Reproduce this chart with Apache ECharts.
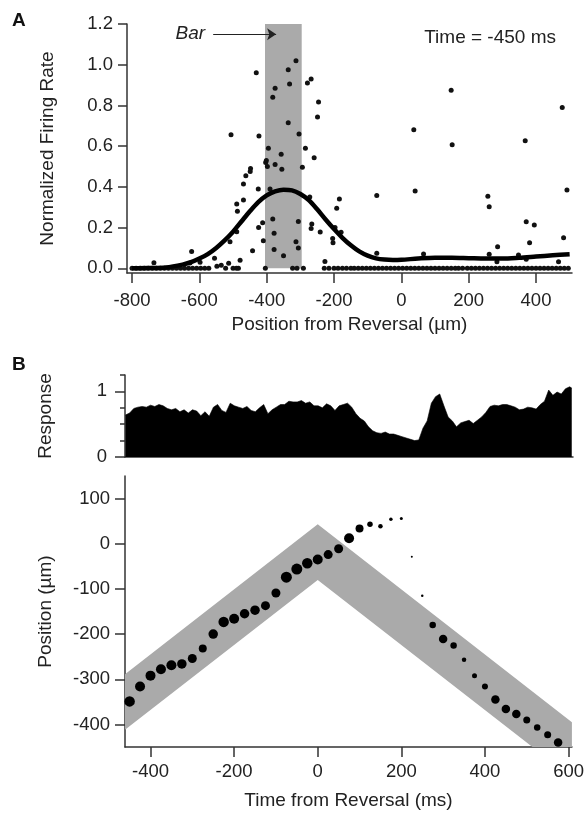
<!DOCTYPE html>
<html>
<head>
<meta charset="utf-8">
<script src="https://cdn.jsdelivr.net/npm/echarts@6/dist/echarts.min.js"></script>
<style>
html,body{margin:0;padding:0;background:#fff}
#chart{width:587px;height:819px}
</style>
</head>
<body>
<div id="chart"></div>
<script>
// ---- panel A: firing rate vs position ----
var firingDots = [
  [-431,0.96],[-313,1.02],[-336,0.975],[-332,0.905],[-375,0.885],[-382,0.84],[-336,0.715],
  [-304,0.66],[-506,0.656],[-423,0.65],[-395,0.59],[-357,0.56],[-403,0.52],[-375,0.51],
  [-398,0.50],[-355,0.486],[-448,0.49],[-449,0.475],[-462,0.455],[-469,0.414],[-425,0.39],
  [-390,0.39],[-279,0.91],[-268,0.93],[-246,0.817],[-249,0.743],[-285,0.59],[-259,0.543],
  [-294,0.496],[148,0.874],[37,0.68],[151,0.607],[478,0.79],[368,0.627],[492,0.385],
  [41,0.38],[-73,0.358],[257,0.354],[-272,0.35],[-184,0.34],[-489,0.316],[-487,0.28],
  [-469,0.335],[-489,0.18],[-509,0.13],[-623,0.082],[-735,0.027],[-555,0.049],[-513,0.025],
  [-479,0.04],[-442,0.086],[-424,0.2],[-412,0.224],[-410,0.136],[-382,0.242],[-378,0.172],
  [-378,0.093],[-350,0.062],[-313,0.13],[-306,0.23],[-598,0.03],[-628,0.026],[-266,0.218],
  [-268,0.196],[-241,0.178],[-192,0.295],[-197,0.2],[-179,0.177],[-204,0.147],[-203,0.126],
  [-306,0.1],[-227,0.033],[-73,0.074],[66,0.07],[261,0.303],[286,0.106],[261,0.069],
  [284,0.032],[371,0.229],[395,0.213],[381,0.126],[348,0.065],[371,0.044],[482,0.15],
  [467,0.032],[-401,0.53],[-548,0.01],[-535,0.015]
];
// dots sitting on zero
var baselineX = [
  -800,-788,-776,-764,-752,-740,-728,-716,-704,-692,-680,-668,-656,-644,-632,-620,-608,-596,
  -584,-572,-522,-500,-490,-484,-404,-323,-310,-291,
  -229,-215,-200,-188,-175,-163,-150,-140,-128,-116,-104,-92,-80,-68,-56,-44,-32,-20,-8,
  4,16,28,40,52,64,76,88,100,112,124,136,148,160,170,182,196,208,220,232,244,256,268,280,
  292,304,316,328,340,352,364,376,388,400,412,424,436,448,460,472,484,496
];
var fitX = [-800,-750,-700,-650,-625,-600,-575,-550,-525,-500,-475,-450,-425,-400,-375,-350,
  -325,-300,-275,-250,-225,-200,-175,-150,-125,-100,-75,-50,-25,0,50,100,150,200,250,300,
  350,400,450,500];
var fitY = [0.000,0.001,0.004,0.018,0.030,0.048,0.070,0.100,0.137,0.180,0.230,0.280,0.325,
  0.358,0.378,0.386,0.383,0.365,0.335,0.290,0.240,0.193,0.150,0.113,0.083,0.062,0.049,0.043,
  0.041,0.042,0.048,0.052,0.052,0.050,0.048,0.048,0.052,0.058,0.064,0.069];
var barRange = [-405, -296];
var posTicks = [-800,-600,-400,-200,0,200,400];
var rateTicks = [0,0.2,0.4,0.6,0.8,1.0,1.2];

// ---- panel B top: response trace ----
var respTime = [-460,-450,-440,-430,-420,-410,-400,-390,-380,-370,-360,-350,-340,-330,-320,
  -310,-300,-290,-280,-270,-260,-250,-240,-230,-220,-210,-200,-190,-180,-170,-160,-150,-140,
  -130,-120,-110,-100,-90,-80,-70,-60,-50,-40,-30,-20,-10,0,10,20,30,40,50,60,70,80,90,100,
  110,120,130,140,150,160,170,180,190,200,210,220,230,240,250,260,270,280,290,300,310,320,
  330,340,350,360,370,380,390,400,410,420,430,440,450,460,470,480,490,500,510,520,530,540,
  550,560,570,580,590,600,605];
var respValue = [0.64,0.67,0.74,0.76,0.77,0.76,0.79,0.77,0.80,0.78,0.74,0.72,0.74,0.69,0.72,
  0.67,0.72,0.70,0.63,0.69,0.62,0.76,0.80,0.71,0.68,0.82,0.78,0.76,0.74,0.77,0.71,0.69,0.75,
  0.80,0.66,0.72,0.76,0.80,0.80,0.85,0.84,0.84,0.86,0.82,0.84,0.78,0.78,0.75,0.81,0.78,0.71,
  0.78,0.80,0.82,0.76,0.66,0.59,0.55,0.46,0.40,0.37,0.36,0.38,0.35,0.35,0.33,0.31,0.29,0.27,
  0.25,0.26,0.44,0.55,0.82,0.92,0.96,0.78,0.61,0.55,0.46,0.52,0.54,0.56,0.51,0.56,0.61,0.68,
  0.77,0.79,0.78,0.80,0.80,0.78,0.76,0.72,0.73,0.76,0.75,0.73,0.80,0.85,1.02,0.94,0.99,0.96,
  1.04,1.07,1.05];

// ---- panel B bottom: position vs time ----
var dotTime = [-450,-425,-400,-375,-350,-325,-300,-275,-250,-225,-200,-175,-150,-125,-100,
  -75,-50,-25,0,25,50,75,100,125,150,175,200,225,250,275,300,325,350,375,400,425,450,475,
  500,525,550,575];
var dotPos = [-349,-316,-292,-278,-269,-266,-254,-232,-200,-173,-166,-155,-147,-137,-109,
  -74,-56,-43,-35,-24,-11,12,34,43,39,54,56,-29,-115,-180,-211,-225,-257,-292,-316,-345,
  -366,-377,-390,-407,-423,-440];
var dotSize = [10.5,10,10,10,10,9.5,9,8,9.5,10.5,10,9.5,9.5,9,9,11,11,10.5,10,9,9,10,8,5.5,
  4.5,3.5,3,2,2.5,6.5,8.5,6.5,4.5,5,6,8.5,8.5,8.5,7,6.5,7,8.5];
var bandTime = [-461, 0, 608];
var bandTop = [-289, 43, -395];
var bandBottom = [-412, -80, -518];
var timeTicks = [-400,-200,0,200,400,600];
var bPosTicks = [-400,-300,-200,-100,0,100];

var FONT = 'Liberation Sans, Arial, sans-serif';
var TXT = '#222';
var axisLine = {show: true, onZero: false, lineStyle: {color: '#333', width: 1.5}};
var tick = function (vals, len) {
  return {show: true, inside: false, length: len, customValues: vals, lineStyle: {color: '#333', width: 1.5}};
};
var label = function (vals, margin, fmt) {
  return {show: true, customValues: vals, margin: margin, color: TXT, fontSize: 18.5,
    fontFamily: FONT, formatter: fmt};
};
var nameStyle = {color: TXT, fontSize: 19, fontFamily: FONT};

var chart = echarts.init(document.getElementById('chart'));
chart.setOption({
  animation: false,
  backgroundColor: '#fff',
  title: {
    text: 'Time = -450 ms', right: 26, top: 23,
    textStyle: {color: TXT, fontSize: 19, fontWeight: 'normal', fontFamily: FONT}
  },
  graphic: [
    {type: 'text', left: 12, top: 11, style: {text: 'A', font: 'bold 19px ' + FONT, fill: '#111'}},
    {type: 'text', left: 12, top: 355, style: {text: 'B', font: 'bold 19px ' + FONT, fill: '#111'}}
  ],
  grid: [
    {left: 127, right: 15, top: 24, height: 249},
    {left: 125, right: 14, top: 375, height: 82},
    {left: 125, right: 14, top: 476, height: 271}
  ],
  xAxis: [
    {gridIndex: 0, type: 'value', position: 'bottom', min: -815, max: 507, splitLine: {show: false},
      axisLine: axisLine, axisTick: tick(posTicks, 10), axisLabel: label(posTicks, 18),
      name: 'Position from Reversal (µm)', nameLocation: 'middle', nameGap: 42,
      nameTextStyle: nameStyle},
    {gridIndex: 1, type: 'value', position: 'bottom', min: -461, max: 608, splitLine: {show: false},
      axisLine: axisLine, axisTick: {show: false}, axisLabel: {show: false}},
    {gridIndex: 2, type: 'value', position: 'bottom', min: -461, max: 608, splitLine: {show: false},
      axisLine: axisLine, axisTick: tick(timeTicks, 10), axisLabel: label(timeTicks, 15),
      name: 'Time from Reversal (ms)', nameLocation: 'middle', nameGap: 44,
      nameTextStyle: nameStyle}
  ],
  yAxis: [
    {gridIndex: 0, type: 'value', position: 'left', min: -0.023, max: 1.2, splitLine: {show: false},
      axisLine: axisLine, axisTick: tick(rateTicks, 9),
      axisLabel: label(rateTicks, 14, function (v) { return v.toFixed(1); }),
      name: 'Normalized Firing Rate', nameLocation: 'middle', nameGap: 70,
      nameTextStyle: nameStyle},
    {gridIndex: 1, type: 'value', position: 'left', min: 0, max: 1.25, splitLine: {show: false},
      axisLine: axisLine, axisTick: tick([0, 1], 10), axisLabel: label([0, 1], 18),
      name: 'Response', nameLocation: 'middle', nameGap: 70, nameTextStyle: nameStyle},
    {gridIndex: 1, type: 'value', position: 'left', offset: 0, min: 0, max: 1.25,
      splitLine: {show: false}, axisLine: {show: false, onZero: false},
      axisTick: tick([0.25, 0.5, 0.75, 1.25], 5), axisLabel: {show: false}},
    {gridIndex: 2, type: 'value', position: 'left', min: -450, max: 150, splitLine: {show: false},
      axisLine: axisLine, axisTick: tick(bPosTicks, 10), axisLabel: label(bPosTicks, 15),
      name: 'Position (µm)', nameLocation: 'middle', nameGap: 70, nameTextStyle: nameStyle}
  ],
  series: [
    {
      type: 'scatter', xAxisIndex: 0, yAxisIndex: 0, symbolSize: 5,
      itemStyle: {color: '#111', opacity: 1},
      data: firingDots.concat(baselineX.map(function (x) { return [x, 0]; })),
      markArea: {
        silent: true, itemStyle: {color: '#aaaaaa', opacity: 1},
        data: [[{coord: [barRange[0], 0]}, {coord: [barRange[1], 1.2]}]]
      },
      markLine: {
        silent: true, symbol: ['none', 'arrow'], symbolSize: 9,
        lineStyle: {color: '#222', width: 1.2, type: 'solid'},
        label: {show: true, position: 'start', formatter: 'Bar', distance: 8,
          fontStyle: 'italic', fontSize: 19, fontFamily: FONT, color: TXT},
        data: [[{coord: [-559, 1.15]}, {coord: [-372, 1.15]}]]
      }
    },
    {
      type: 'line', xAxisIndex: 0, yAxisIndex: 0, smooth: 0.3, symbol: 'none',
      lineStyle: {color: '#000', width: 4.5},
      data: fitX.map(function (x, i) { return [x, fitY[i]]; })
    },
    {
      type: 'line', xAxisIndex: 1, yAxisIndex: 1, symbol: 'none',
      lineStyle: {color: '#000', width: 0.6},
      areaStyle: {color: '#000', opacity: 1},
      data: respTime.map(function (t, i) { return [t, respValue[i]]; })
    },
    {
      type: 'custom', xAxisIndex: 2, yAxisIndex: 3, clip: true, silent: true,
      data: bandTime.map(function (t, i) { return [t, bandTop[i], bandBottom[i]]; }),
      renderItem: function (params, api) {
        if (params.dataIndex !== 0) return;
        var pts = [];
        for (var i = 0; i < bandTime.length; i++) pts.push(api.coord([bandTime[i], bandTop[i]]));
        for (var j = bandTime.length - 1; j >= 0; j--) pts.push(api.coord([bandTime[j], bandBottom[j]]));
        return {type: 'polygon', shape: {points: pts}, style: {fill: '#aaaaaa'}};
      }
    },
    {
      type: 'scatter', xAxisIndex: 2, yAxisIndex: 3, itemStyle: {color: '#000', opacity: 1},
      symbolSize: function (v, p) { return dotSize[p.dataIndex]; },
      data: dotTime.map(function (t, i) { return [t, dotPos[i]]; })
    }
  ]
});
</script>
</body>
</html>
